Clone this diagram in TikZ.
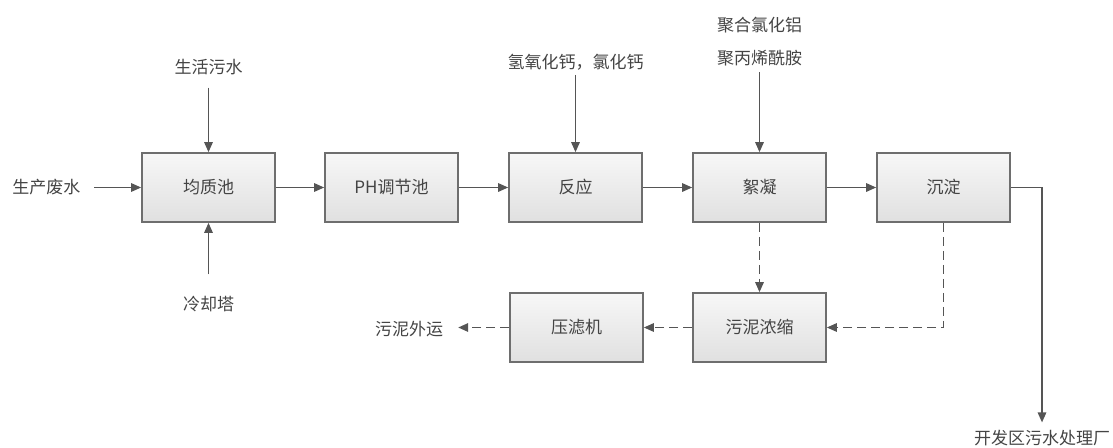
\documentclass[tikz,border=0pt]{standalone}
\usepackage{fontspec}
\setmainfont{Noto Sans CJK SC}
\usetikzlibrary{arrows.meta}
\definecolor{ln}{HTML}{555555}
\definecolor{tx}{HTML}{444444}
\definecolor{bd}{HTML}{6E6E6E}
\definecolor{ftop}{HTML}{F7F7F7}
\definecolor{fbot}{HTML}{E0E0E0}
\begin{document}
\begin{tikzpicture}[x=1pt,y=-1pt,
  box/.style={draw=bd, line width=1.7pt, top color=ftop, bottom color=fbot,
    minimum width=133pt, minimum height=69pt, inner sep=0pt, text=tx,
    font=\fontsize{17pt}{20pt}\selectfont},
  lab/.style={inner xsep=0pt, text=tx, font=\fontsize{17pt}{20pt}\selectfont},
  arr/.style={draw=ln, line width=1.5pt, -{Triangle[length=10pt,width=8.5pt]}},
  darr/.style={arr, dash pattern=on 9pt off 5pt}]
\useasboundingbox (0,0) rectangle (1113,447);
% process boxes
\node[box] (b1) at (208.5,187.5) {均质池};
\node[box] (b2) at (391.5,187.5) {PH调节池};
\node[box] (b3) at (575.5,187.5) {反应};
\node[box] (b4) at (759.5,187.5) {絮凝};
\node[box] (b5) at (943.5,187.5) {沉淀};
\node[box] (b6) at (576.5,327.5) {压滤机};
\node[box] (b7) at (759.5,327.5) {污泥浓缩};
% labels
\node[lab, inner ysep=0pt] (in1) at (46.5,187.5) {生产废水};
\node[lab, inner ysep=12.5pt] (s1) at (208.5,67) {生活污水};
\node[lab, inner ysep=21.5pt] (c1) at (208.5,304) {冷却塔};
\node[lab, inner ysep=4.5pt] (r1) at (575.5,62) {氢氧化钙，氯化钙};
\node[lab, inner ysep=5.5pt, anchor=south, align=center,
      font=\fontsize{17pt}{33pt}\selectfont] (f1) at (759.5,72) {聚合氯化铝\\聚丙烯酰胺};
\node[lab, inner ysep=8pt] (o1) at (1042,438.5) {开发区污水处理厂};
\node[lab, inner ysep=0pt, inner xsep=15pt] (w1) at (409,329) {污泥外运};
% solid flow
\draw[arr] ([xshift=13.5pt]in1.east) -- (b1.west);
\draw[arr] (s1.south) -- (b1.north);
\draw[arr] (c1.north) -- (b1.south);
\draw[arr] (b1.east) -- (b2.west);
\draw[arr] (b2.east) -- (b3.west);
\draw[arr] (r1.south) -- (b3.north);
\draw[arr] (b3.east) -- (b4.west);
\draw[arr] (f1.south) -- (b4.north);
\draw[arr] (b4.east) -- (b5.west);
\draw[arr] (b5.east) -| (o1.north);
% sludge (dashed)
\draw[darr] (b4.south) -- (b7.north);
\draw[darr] (b5.south) |- (b7.east);
\draw[darr] (b7.west) -- (b6.east);
\draw[darr] (b6.west) -- (b6.west -| w1.east);
\end{tikzpicture}
\end{document}
